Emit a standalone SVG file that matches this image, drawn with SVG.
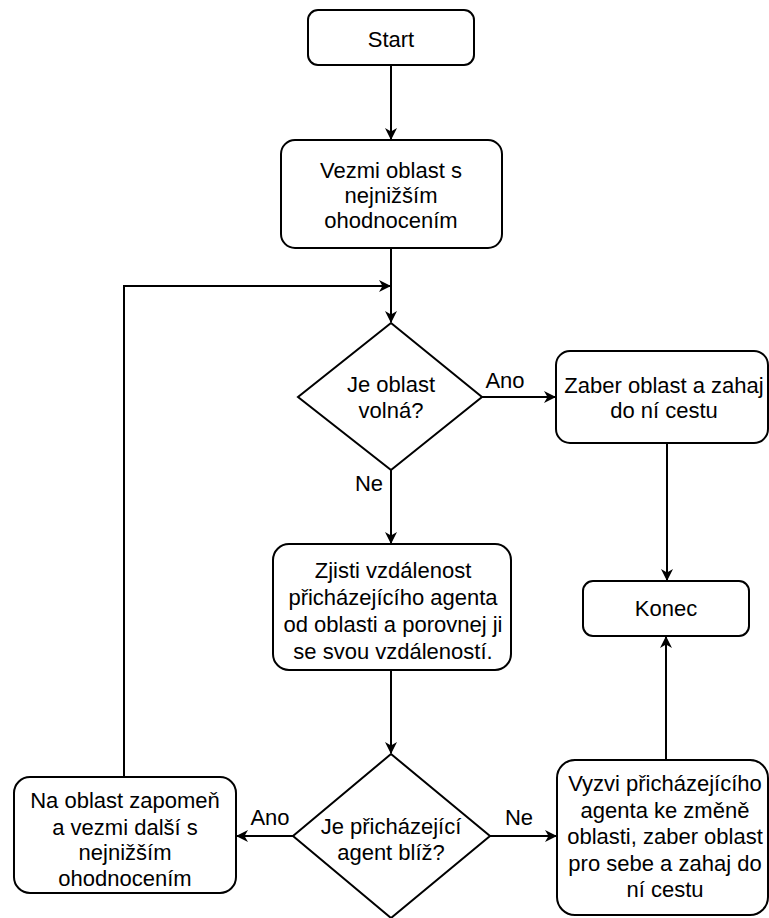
<svg xmlns="http://www.w3.org/2000/svg" width="769" height="918" viewBox="0 0 769 918">
<style>
.box{fill:#fff;stroke:#000;stroke-width:2}
.t{font-family:"Liberation Sans",Arial,sans-serif;font-size:22px;fill:#000;text-anchor:middle}
.e{fill:none;stroke:#000;stroke-width:2}
</style>
<defs>
<marker id="a" viewBox="0 0 12 12" refX="11" refY="6" markerWidth="12" markerHeight="12" markerUnits="userSpaceOnUse" orient="auto">
<path d="M0,0 L12,6 L0,12 L3.5,6 Z" fill="#000"/>
</marker>
</defs>
<rect width="769" height="918" fill="#fff"/>
<g id="edges">
<path class="e" d="M391,65 V139" marker-end="url(#a)"/>
<path class="e" d="M391,248 V322" marker-end="url(#a)"/>
<path class="e" d="M124,777 V286 H390" marker-end="url(#a)"/>
<path class="e" d="M482,397 H555" marker-end="url(#a)"/>
<path class="e" d="M391,470 V543" marker-end="url(#a)"/>
<path class="e" d="M667,443 V580" marker-end="url(#a)"/>
<path class="e" d="M391,670 V753" marker-end="url(#a)"/>
<path class="e" d="M293,836 H237" marker-end="url(#a)"/>
<path class="e" d="M490,836 H556" marker-end="url(#a)"/>
<path class="e" d="M666,760 V637" marker-end="url(#a)"/>
<text class="t" x="505" y="388">Ano</text>
<text class="t" x="369" y="491">Ne</text>
<text class="t" x="270" y="825">Ano</text>
<text class="t" x="519" y="825">Ne</text>
</g>
<g id="start">
<rect class="box" x="308" y="10" width="166" height="55" rx="10"/>
<text class="t" x="391" y="47">Start</text>
</g>
<g id="vezmi">
<rect class="box" x="281" y="140" width="221" height="108" rx="14"/>
<text class="t" x="391" y="178">Vezmi oblast s</text>
<text class="t" x="391" y="203">nejnižším</text>
<text class="t" x="391" y="228">ohodnocením</text>
</g>
<g id="d1">
<polygon class="box" points="391,323 482,397 391,470 298,397"/>
<text class="t" x="391" y="392">Je oblast</text>
<text class="t" x="391" y="418">volná?</text>
</g>
<g id="zaber">
<rect class="box" x="556" y="351" width="212" height="92" rx="14"/>
<text class="t" x="664" y="393">Zaber oblast a zahaj</text>
<text class="t" x="664" y="418">do ní cestu</text>
</g>
<g id="zjisti">
<rect class="box" x="273" y="544" width="238" height="126" rx="16"/>
<text class="t" x="393" y="578">Zjisti vzdálenost</text>
<text class="t" x="393" y="605">přicházejícího agenta</text>
<text class="t" x="393" y="632">od oblasti a porovnej ji</text>
<text class="t" x="393" y="659">se svou vzdáleností.</text>
</g>
<g id="konec">
<rect class="box" x="583" y="581" width="166" height="55" rx="10"/>
<text class="t" x="666" y="616">Konec</text>
</g>
<g id="d2">
<polygon class="box" points="391,754 490,836 391,918 293,836"/>
<text class="t" x="391" y="834">Je přicházející</text>
<text class="t" x="391" y="860">agent blíž?</text>
</g>
<g id="na">
<rect class="box" x="14" y="777" width="222" height="116" rx="16"/>
<text class="t" x="125" y="808">Na oblast zapomeň</text>
<text class="t" x="125" y="835">a vezmi další s</text>
<text class="t" x="125" y="860">nejnižším</text>
<text class="t" x="125" y="886">ohodnocením</text>
</g>
<g id="vyzvi">
<rect class="box" x="557" y="760" width="211" height="155" rx="18"/>
<text class="t" x="665" y="791">Vyzvi přicházejícího</text>
<text class="t" x="665" y="818">agenta ke změně</text>
<text class="t" x="665" y="844">oblasti, zaber oblast</text>
<text class="t" x="665" y="871">pro sebe a zahaj do</text>
<text class="t" x="665" y="897">ní cestu</text>
</g>
</svg>
